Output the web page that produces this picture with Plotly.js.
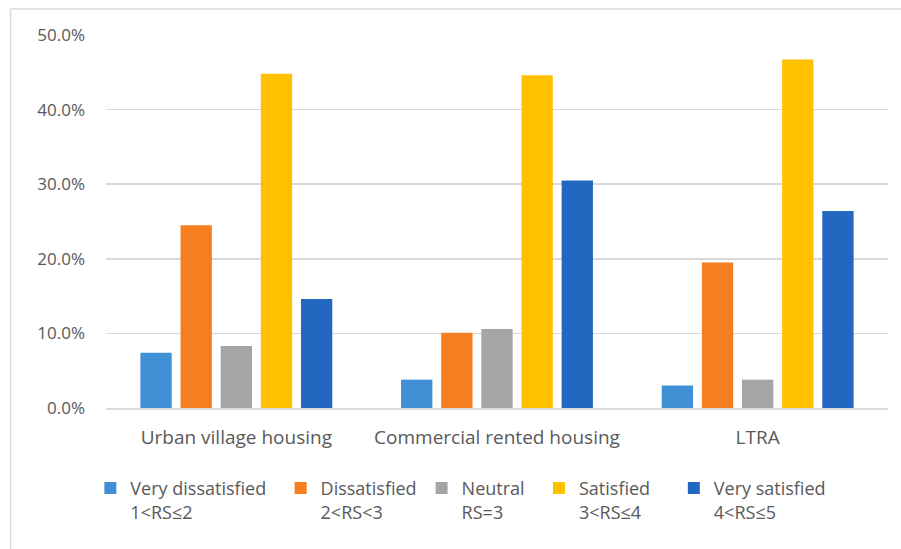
<!DOCTYPE html>
<html>
<head>
<meta charset="utf-8">
<script src="https://cdn.plot.ly/plotly-3.0.1.min.js"></script>
<style>html,body{margin:0;padding:0;background:#fff;}#chart{width:901px;height:549px;}</style>
</head>
<body>
<div id="chart"></div>
<script>
const categories = ["Urban village housing", "Commercial rented housing", "LTRA"];
const seriesNames = [
  "Very dissatisfied&nbsp;&nbsp;<br>1&lt;RS≤2",
  "Dissatisfied<br>2&lt;RS&lt;3",
  "Neutral&nbsp;&nbsp;<br>RS=3",
  "Satisfied&nbsp;&nbsp;&nbsp;&nbsp;<br>3&lt;RS≤4",
  "Very satisfied<br>4&lt;RS≤5"
];
const veryDissatisfied = [0.074, 0.038, 0.030];
const dissatisfied = [0.245, 0.101, 0.195];
const neutral = [0.083, 0.106, 0.038];
const satisfied = [0.448, 0.446, 0.467];
const verySatisfied = [0.146, 0.305, 0.264];
const yTicks = [0, 0.1, 0.2, 0.3, 0.4, 0.5];

const colors = ["#418FD4", "#F57E20", "#A5A5A5", "#FFC000", "#2367C1"];
const values = [veryDissatisfied, dissatisfied, neutral, satisfied, verySatisfied];

const data = values.map((v, i) => ({
  type: "bar",
  name: seriesNames[i],
  x: categories,
  y: v,
  marker: {color: colors[i], line: {color: colors[i], width: 0}},
  hoverinfo: "none"
}));

const fam = "Open Sans, sans-serif";

const layout = {
  width: 901,
  height: 549,
  margin: {l: 106, r: 13, t: 35, b: 141},
  paper_bgcolor: "#ffffff",
  plot_bgcolor: "#ffffff",
  font: {family: fam, color: "#595959", size: 18},
  barmode: "group",
  bargap: 0.23,
  bargroupgap: 0.22,
  showlegend: true,
  legend: {
    orientation: "h",
    x: -0.02, xanchor: "left",
    y: -0.166, yanchor: "top",
    valign: "top",
    font: {family: fam, color: "#595959", size: 18},
    itemwidth: 30,
    traceorder: "normal"
  },
  xaxis: {
    showgrid: false,
    showline: true,
    linecolor: "#D9D9D9",
    linewidth: 1.5,
    ticks: "",
    ticklabelstandoff: 12,
    tickfont: {family: fam, color: "#595959", size: 19}
  },
  yaxis: {
    range: [0, 0.5],
    tickvals: yTicks,
    tickformat: ".1%",
    showgrid: true,
    gridcolor: "#D9D9D9",
    gridwidth: 1.5,
    zeroline: false,
    showline: false,
    ticks: "",
    ticklabelstandoff: 20,
    tickfont: {family: fam, color: "#595959", size: 17}
  },
  shapes: [
    {type: "line", xref: "paper", yref: "paper", x0: -0.122, x1: 1.03, y0: 1.07, y1: 1.07, line: {color: "#D9D9D9", width: 1.5}},
    {type: "line", xref: "paper", yref: "paper", x0: -0.122, x1: -0.122, y0: 1.07, y1: -0.4, line: {color: "#D9D9D9", width: 1.5}}
  ]
};

Plotly.newPlot("chart", data, layout, {displayModeBar: false, staticPlot: true});
</script>
</body>
</html>
